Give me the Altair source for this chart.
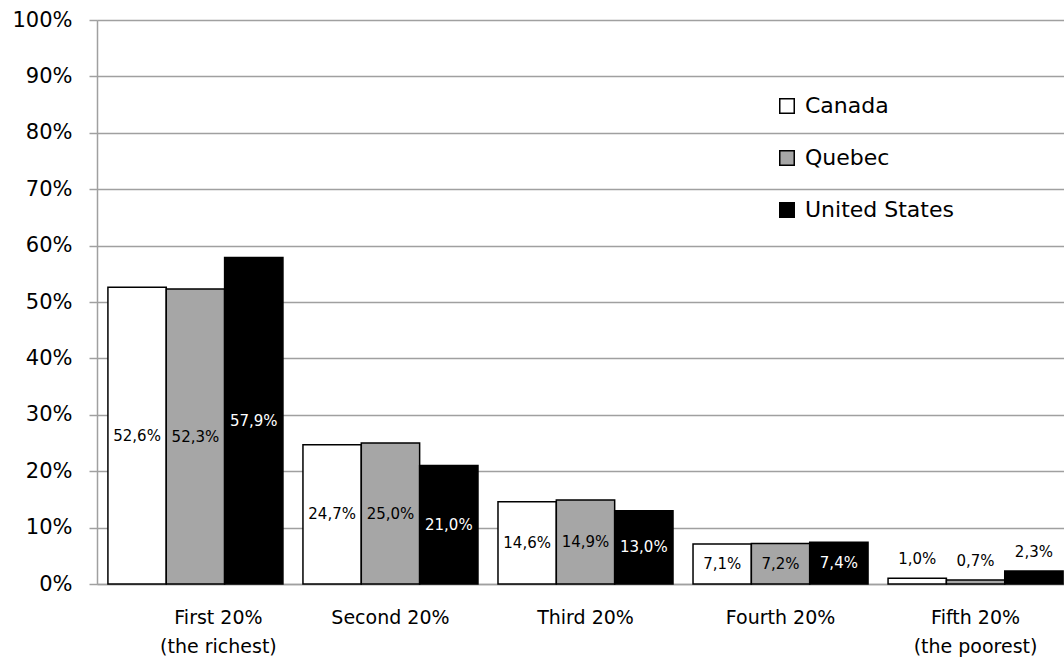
import altair as alt
import pandas as pd

categories = ["First 20%|(the richest)", "Second 20%", "Third 20%", "Fourth 20%", "Fifth 20%|(the poorest)"]
series = ["Canada", "Quebec", "United States"]
canada = [52.6, 24.7, 14.6, 7.1, 1.0]
quebec = [52.3, 25.0, 14.9, 7.2, 0.7]
united_states = [57.9, 21.0, 13.0, 7.4, 2.3]
colors = ["#ffffff", "#a6a6a6", "#000000"]

rows = []
for name, vals in zip(series, [canada, quebec, united_states]):
    for cat, v in zip(categories, vals):
        rows.append({"cat": cat, "series": name, "value": v / 100.0,
                     "label": f"{v:.1f}%".replace(".", ",")})
df = pd.DataFrame(rows)

FONT = "DejaVu Sans"

x = alt.X("cat:N", sort=categories, title=None,
          scale=alt.Scale(paddingInner=0.1026, paddingOuter=0.056, range=[0, 977]),
          axis=alt.Axis(labelExpr="split(datum.label, '|')", labelAngle=0,
                        labelFontSize=19, labelLineHeight=29, labelPadding=24,
                        labelOffset={"condition": {"test": "datum.index == 0", "value": 23}, "value": 0},
                        ticks=False, domainColor="#a0a0a0", domainWidth=1.5,
                        labelColor="#000000", labelFont=FONT))
xo = alt.XOffset("series:N", sort=series)

base = alt.Chart(df)

bars = base.mark_bar(stroke="#000000", strokeWidth=1.5).encode(
    x=x, xOffset=xo,
    y=alt.Y("value:Q", title=None,
            scale=alt.Scale(domain=[0, 1], nice=False),
            axis=alt.Axis(format=".0%", values=[i / 10 for i in range(11)],
                          grid=True, gridColor="#a0a0a0", gridWidth=1.5,
                          tickSize=8, tickColor="#a0a0a0", tickWidth=1.5,
                          domainColor="#a0a0a0", domainWidth=1.5,
                          labelFontSize=21, labelPadding=17, labelColor="#000000",
                          labelFont=FONT)),
    fill=alt.Fill("series:N", sort=series,
                  scale=alt.Scale(domain=series, range=colors),
                  legend=alt.Legend(title=None, orient="none", legendX=679, legendY=75,
                                    symbolType="square", symbolSize=210,
                                    symbolStrokeColor="#000000", symbolStrokeWidth=1.5,
                                    labelFontSize=22, labelFont=FONT, labelColor="#000000",
                                    rowPadding=30, labelOffset=7, padding=0)),
)

text_color = alt.condition(alt.datum.series == "United States", alt.value("white"), alt.value("black"))

inside = base.transform_filter("datum.value >= 0.05").transform_calculate(
    mid="datum.value / 2"
).mark_text(fontSize=15, font=FONT, baseline="middle").encode(
    x=x, xOffset=xo, y=alt.Y("mid:Q"), text="label:N", color=text_color)

outside = base.transform_filter("datum.value < 0.05").mark_text(
    fontSize=15, font=FONT, baseline="middle", dy=-19, color="black").encode(
    x=x, xOffset=xo, y=alt.Y("value:Q"), text="label:N")

chart = alt.layer(bars, inside, outside).properties(
    width=967, height=564,
    padding={"left": 97, "top": 20, "right": 0, "bottom": 75},
    autosize=alt.AutoSizeParams(type="none"),
).configure_view(stroke=None).configure(background="white")

chart.save("out.html", embed_options={"renderer": "svg", "actions": False})
